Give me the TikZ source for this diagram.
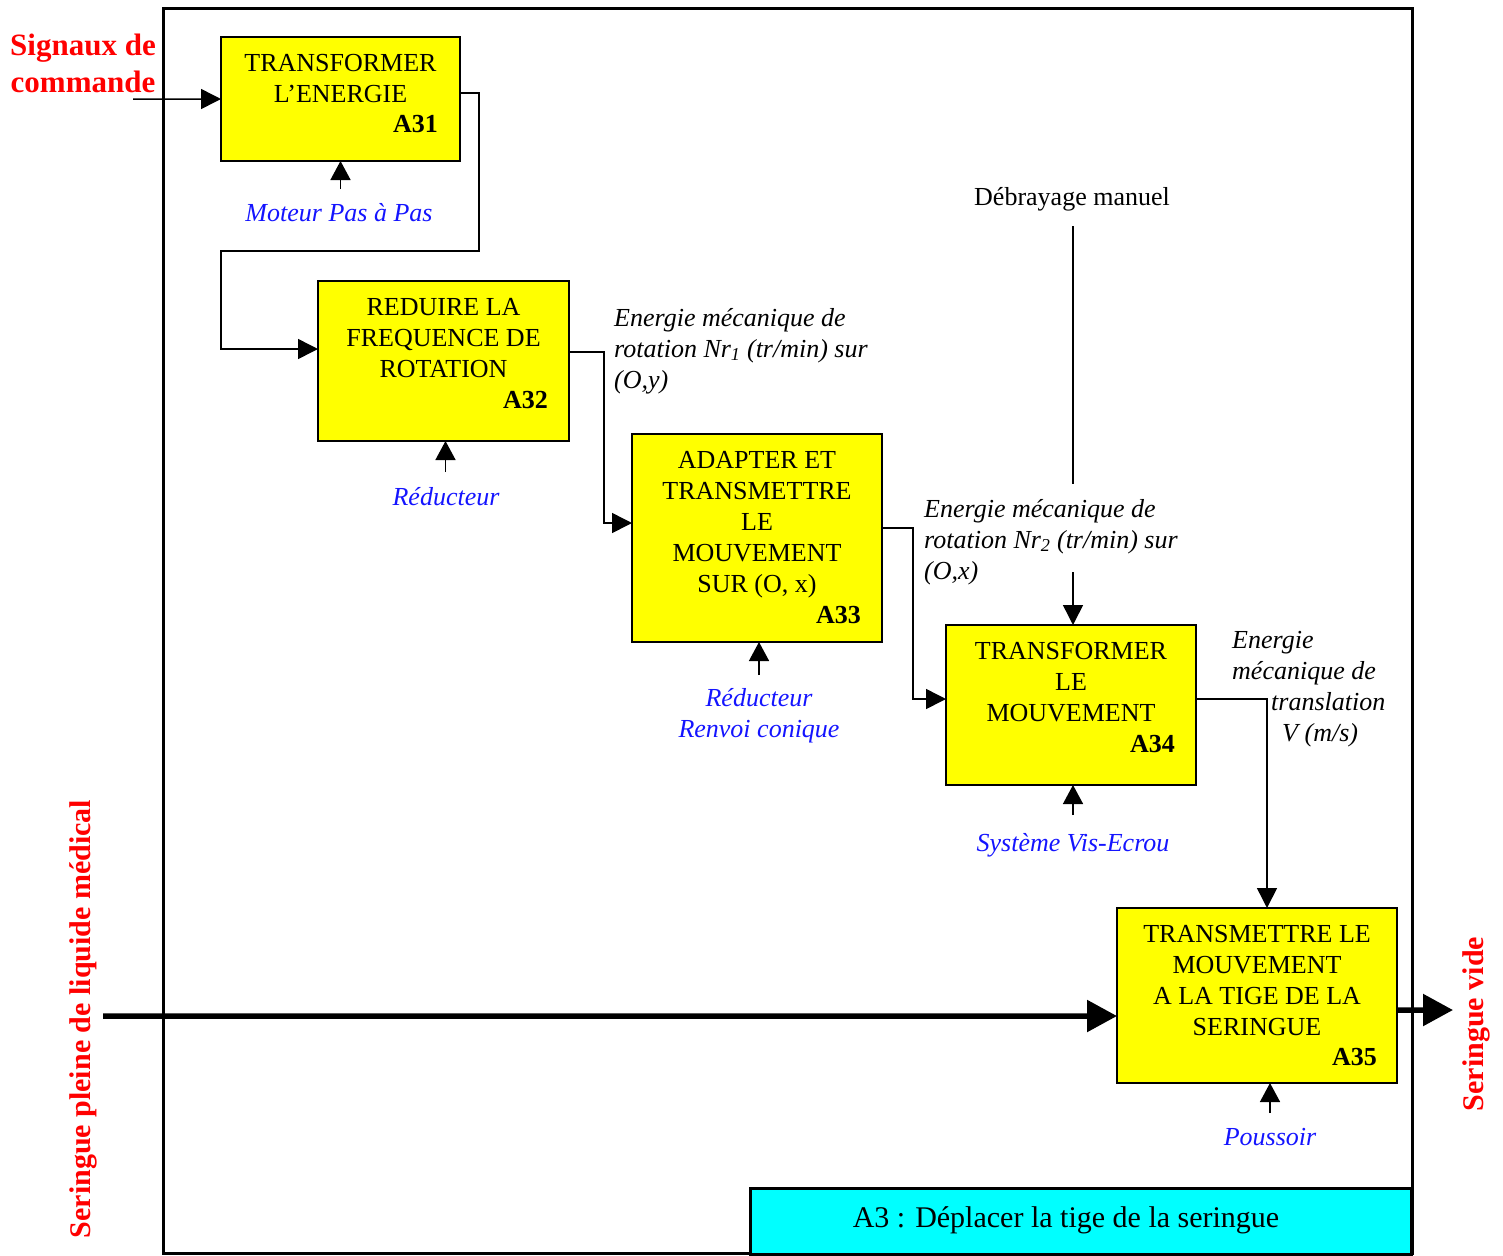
\documentclass[tikz,border=0pt]{standalone}
\usepackage{fontspec}
\setmainfont{Liberation Serif}
\usetikzlibrary{arrows.meta,positioning}
\definecolor{jaune}{RGB}{255,255,0}
\definecolor{turquoise}{RGB}{0,255,255}
\definecolor{rouge}{RGB}{255,0,0}
\definecolor{bleu}{RGB}{20,20,255}
\tikzset{
	bloc/.style={draw, line width=1.5bp, fill=jaune, anchor=north west, inner sep=0pt, outer sep=0pt},
	btext/.style={font=\fontsize{26bp}{31bp}\selectfont, align=center, inner sep=0pt},
	code/.style={font=\fontsize{26bp}{31bp}\selectfont\bfseries, anchor=east, inner sep=0pt},
	wire/.style={line width=1.5bp},
	flow/.style={line width=1.5bp, -{Triangle[length=20bp,width=20bp]}},
	mech/.style={line width=1.5bp, -{Triangle[length=19bp,width=20bp]}},
	big/.style={line width=5.5bp, -{Triangle[length=30bp,width=31bp]}},
	mlab/.style={font=\fontsize{26bp}{31bp}\selectfont\itshape, text=bleu, align=center, inner sep=0pt},
	elab/.style={font=\fontsize{26bp}{31bp}\selectfont\itshape, align=left, anchor=west, inner sep=0pt},
	rlab/.style={font=\fontsize{30bp}{37bp}\selectfont\bfseries, text=rouge, align=center, inner sep=0pt}
}
\begin{document}
\begin{tikzpicture}[x=1bp,y=-1bp]
			%%%%% START %%%%%
			\useasboundingbox (0,0) rectangle (1503,1255);
			
			\draw[line width=3bp] (163,8) rectangle (1412,1253);
			\node[draw, line width=3bp, fill=turquoise, anchor=north west, minimum width=661bp, minimum height=66bp, inner sep=0pt] (title) at (749,1187) {};
			\node[font=\fontsize{30bp}{36bp}\selectfont, inner sep=0pt] (ttl) at (1066,1220) {A3 : Déplacer la tige de la seringue};
			
			% blocs
			\node[bloc, minimum width=239bp, minimum height=124bp] (a31) at (221,37) {};
			\node[bloc, minimum width=251bp, minimum height=160bp] (a32) at (318,281) {};
			\node[bloc, minimum width=250bp, minimum height=208bp] (a33) at (632,434) {};
			\node[bloc, minimum width=250bp, minimum height=160bp] (a34) at (946,625) {};
			\node[bloc, minimum width=280bp, minimum height=175bp] (a35) at (1117,908) {};
			
			\node[btext, below=17bp of a31.north] (t31) {TRANSFORMER\\L’ENERGIE};
			\node[btext, below=17bp of a32.north] (t32) {REDUIRE LA\\FREQUENCE DE\\ROTATION};
			\node[btext, below=17bp of a33.north] (t33) {ADAPTER ET\\TRANSMETTRE\\LE\\MOUVEMENT\\SUR (O, x)};
			\node[btext, below=17bp of a34.north] (t34) {TRANSFORMER\\LE\\MOUVEMENT};
			\node[btext, below=17bp of a35.north] (t35) {TRANSMETTRE LE\\MOUVEMENT\\A LA TIGE DE LA\\SERINGUE};
			
			\node[code] (c31) at (438,124) {A31};
			\node[code] (c32) at (548,400) {A32};
			\node[code] (c33) at (861,615) {A33};
			\node[code] (c34) at (1175,744) {A34};
			\node[code] (c35) at (1377,1057) {A35};
			
			% supports
			\node[mlab] (m31) at (339,213) {Moteur Pas à Pas};
			\node[mlab] (m32) at (446,497) {Réducteur};
			\node[mlab] (m33) at (759,716) {Réducteur\\Renvoi conique};
			\node[mlab] (m34) at (1073,845) {Système Vis-Ecrou};
			\node[mlab] (m35) at (1270,1137) {Poussoir};
			
			\draw[mech] ([yshift=-28bp]a31.south) -- (a31.south);
			\draw[mech] ([xshift=2bp,yshift=-31bp]a32.south) -- ([xshift=2bp]a32.south);
			\draw[mech] ([xshift=2bp,yshift=-33bp]a33.south) -- ([xshift=2bp]a33.south);
			\draw[mech] ([xshift=2bp,yshift=-30bp]a34.south) -- ([xshift=2bp]a34.south);
			\draw[mech] ([xshift=13bp,yshift=-30bp]a35.south) -- ([xshift=13bp]a35.south);
			
			% energies
			\node[elab] (e1) at (614,351) {Energie mécanique de\\rotation Nr\textsubscript{1} (tr/min) sur\\(O,y)};
			\node[elab] (e2) at (924,542) {Energie mécanique de\\rotation Nr\textsubscript{2} (tr/min) sur\\(O,x)};
			\node[elab] (e3) at (1232,689) {Energie\\mécanique de\\\hspace*{39bp}translation\\\hspace*{50bp}V (m/s)};
			\node[font=\fontsize{26bp}{31bp}\selectfont, inner sep=0pt] (deb) at (1072,199) {Débrayage manuel};
			
			\draw[flow] ([yshift=6bp]a31.east) -- ++(19,0) |- (221,251) |- ([yshift=12bp]a32.west);
			\draw[flow] ([yshift=9bp]a32.east) -- ++(35,0) |- ([yshift=15bp]a33.west);
			\draw[flow] ([yshift=10bp]a33.east) -- ++(31,0) |- ([yshift=6bp]a34.west);
			\draw[flow] ([yshift=6bp]a34.east) -| ([xshift=10bp]a35.north);
			
			\coordinate (d1) at (1073,226);
			\coordinate (d2) at (1073,484);
			\coordinate (d3) at (1073,572);
			\draw[wire] (d1) -- (d2);
			\draw[flow] (d3) -- (d3 |- a34.north);
			
			% entrees / sorties
			\node[rlab, font=\fontsize{31bp}{37bp}\selectfont\bfseries] (sig) at (83,63) {Signaux de\\commande};
			\coordinate (sigin) at (133,99);
			\draw[flow] (sigin) -- (a31.west);
			
			\node[rlab, rotate=90] (sin) at (83,1019) {Seringue pleine de liquide médical};
			\node[rlab, rotate=90] (sout) at (1476,1024) {Seringue vide};
			\coordinate (inp) at (103,1016);
			\coordinate (outp) at (1453,1010);
			\draw[big] (inp) -- ([yshift=-20.5bp]a35.west);
			\draw[big] ([yshift=-14.5bp]a35.east) -- (outp);
			
			%%%%% END %%%%%
\end{tikzpicture}
\end{document}
